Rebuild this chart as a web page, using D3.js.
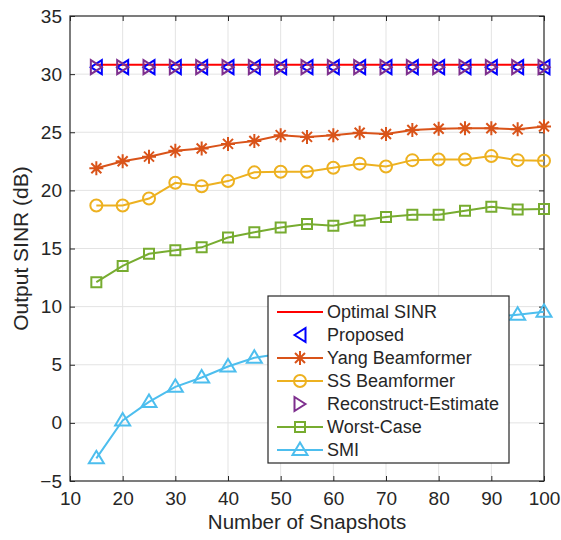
<!DOCTYPE html>
<html>
<head>
<meta charset="utf-8">
<script src="https://cdn.jsdelivr.net/npm/d3@7"></script>
<style>
  body { margin: 0; background: #fff; }
  text { font-family: "Liberation Sans", Arial, sans-serif; fill: #262626; }
</style>
</head>
<body>
<svg id="chart" width="561" height="540"></svg>
<script>
// snapshots on the x axis
const snapshots = [15, 20, 25, 30, 35, 40, 45, 50, 55, 60, 65, 70, 75, 80, 85, 90, 95, 100];

// output SINR (dB)
const optimalSinr   = [30.8, 30.8, 30.8, 30.8, 30.8, 30.8, 30.8, 30.8, 30.8, 30.8, 30.8, 30.8, 30.8, 30.8, 30.8, 30.8, 30.8, 30.8];
const proposed      = [30.6, 30.6, 30.6, 30.6, 30.6, 30.6, 30.6, 30.6, 30.6, 30.6, 30.6, 30.6, 30.6, 30.6, 30.6, 30.6, 30.6, 30.6];
const yang          = [21.9, 22.5, 22.9, 23.4, 23.6, 24.0, 24.25, 24.75, 24.6, 24.75, 24.95, 24.85, 25.2, 25.3, 25.35, 25.35, 25.25, 25.5];
const ssBeam        = [18.7, 18.7, 19.3, 20.65, 20.35, 20.8, 21.55, 21.6, 21.6, 21.95, 22.3, 22.05, 22.6, 22.65, 22.65, 22.95, 22.6, 22.55];
const reconstruct   = [30.6, 30.6, 30.6, 30.6, 30.6, 30.6, 30.6, 30.6, 30.6, 30.6, 30.6, 30.6, 30.6, 30.6, 30.6, 30.6, 30.6, 30.6];
const worstCase     = [12.1, 13.5, 14.55, 14.85, 15.1, 15.95, 16.4, 16.8, 17.1, 16.95, 17.4, 17.7, 17.9, 17.9, 18.25, 18.6, 18.35, 18.4];
const smi           = [-3.05, 0.2, 1.8, 3.1, 3.9, 4.85, 5.6, 5.95, 6.5, 7.0, 7.4, 7.8, 8.2, 8.5, 8.8, 9.1, 9.3, 9.55];

const xTicks = [10, 20, 30, 40, 50, 60, 70, 80, 90, 100];
const yTicks = [-5, 0, 5, 10, 15, 20, 25, 30, 35];

const legendNames = ['Optimal SINR', 'Proposed', 'Yang Beamformer', 'SS Beamformer',
                     'Reconstruct-Estimate', 'Worst-Case', 'SMI'];

const series = [
  {name: legendNames[0], values: optimalSinr, color: '#ff0000', line: true,  marker: null},
  {name: legendNames[1], values: proposed,    color: '#0000ff', line: false, marker: 'left'},
  {name: legendNames[2], values: yang,        color: '#d95319', line: true,  marker: 'star'},
  {name: legendNames[3], values: ssBeam,      color: '#edb120', line: true,  marker: 'circle'},
  {name: legendNames[4], values: reconstruct, color: '#7e2f8e', line: false, marker: 'right'},
  {name: legendNames[5], values: worstCase,   color: '#77ac30', line: true,  marker: 'square'},
  {name: legendNames[6], values: smi,         color: '#4dbeee', line: true,  marker: 'up'}
];

const margin = {top: 16, right: 17, bottom: 59, left: 70},
      width = 561, height = 540,
      innerW = width - margin.left - margin.right,
      innerH = height - margin.top - margin.bottom;

const svg = d3.select('#chart');
const g = svg.append('g').attr('transform', 'translate(' + margin.left + ',' + margin.top + ')');

const x = d3.scaleLinear().domain([10, 100]).range([0, innerW]);
const y = d3.scaleLinear().domain([-5, 35]).range([innerH, 0]);

g.append('rect').attr('width', innerW).attr('height', innerH).attr('fill', '#fff');

// grid
g.append('g').selectAll('line').data(xTicks.slice(1, -1)).enter().append('line')
  .attr('x1', d => x(d)).attr('x2', d => x(d)).attr('y1', 0).attr('y2', innerH)
  .attr('stroke', '#e3e3e3').attr('stroke-width', 1);
g.append('g').selectAll('line').data(yTicks.slice(1, -1)).enter().append('line')
  .attr('y1', d => y(d)).attr('y2', d => y(d)).attr('x1', 0).attr('x2', innerW)
  .attr('stroke', '#e3e3e3').attr('stroke-width', 1);

// axes (ticks inward, mirrored)
const axisColor = '#262626';
function styleAxis(sel) {
  sel.select('.domain').remove();
  sel.selectAll('.tick line').attr('stroke', axisColor);
  sel.selectAll('.tick text').attr('font-size', 19).attr('fill', axisColor);
}
g.append('g').attr('transform', 'translate(0,' + innerH + ')')
  .call(d3.axisBottom(x).tickValues(xTicks).tickSize(-5).tickPadding(11))
  .call(styleAxis);
g.append('g').call(d3.axisTop(x).tickValues(xTicks).tickSize(-5).tickFormat(''))
  .call(styleAxis);
g.append('g')
  .call(d3.axisLeft(y).tickValues(yTicks).tickSize(-5).tickPadding(8))
  .call(styleAxis);
g.append('g').attr('transform', 'translate(' + innerW + ',0)')
  .call(d3.axisRight(y).tickValues(yTicks).tickSize(-5).tickFormat(''))
  .call(styleAxis);
g.append('rect').attr('width', innerW).attr('height', innerH)
  .attr('fill', 'none').attr('stroke', axisColor).attr('stroke-width', 1.2);

// markers
function markerPath(type) {
  switch (type) {
    case 'left':   return 'M-5.5,0L5.5,-7L5.5,7Z';
    case 'right':  return 'M5.5,0L-5.5,-7L-5.5,7Z';
    case 'up':     return 'M0,-7.5L7.5,5L-7.5,5Z';
    case 'square': return 'M-5,-5H5V5H-5Z';
    case 'circle': return 'M6,0A6,6 0 1,1 -6,0A6,6 0 1,1 6,0Z';
    case 'star':   return 'M0,-7V7M-7,0H7M-5,-5L5,5M-5,5L5,-5';
  }
  return null;
}

const line = d3.line().x((d, i) => x(snapshots[i])).y(d => y(d));

const plot = g.append('g');
series.forEach(function(s) {
  if (s.line) {
    plot.append('path').datum(s.values)
      .attr('d', line).attr('fill', 'none')
      .attr('stroke', s.color).attr('stroke-width', 2);
  }
  if (s.marker) {
    plot.append('g').selectAll('path').data(s.values).enter().append('path')
      .attr('transform', (d, i) => 'translate(' + x(snapshots[i]) + ',' + y(d) + ')')
      .attr('d', markerPath(s.marker))
      .attr('fill', 'none').attr('stroke', s.color).attr('stroke-width', 2);
  }
});

// legend
const legend = svg.append('g').attr('transform', 'translate(268,296)');
legend.append('rect').attr('width', 241).attr('height', 167)
  .attr('fill', '#fff').attr('stroke', axisColor).attr('stroke-width', 1.2);
series.forEach(function(s, i) {
  const row = legend.append('g').attr('transform', 'translate(0,' + (16 + i * 23) + ')');
  if (s.line) {
    row.append('line').attr('x1', 9).attr('x2', 55)
      .attr('stroke', s.color).attr('stroke-width', 2);
  }
  if (s.marker) {
    row.append('path').attr('transform', 'translate(32,0)')
      .attr('d', markerPath(s.marker))
      .attr('fill', 'none').attr('stroke', s.color).attr('stroke-width', 2);
  }
  row.append('text').attr('x', 59).attr('dy', '0.35em')
    .attr('font-size', 18).text(s.name);
});

// axis titles
svg.append('text')
  .attr('x', margin.left + innerW / 2).attr('y', 529)
  .attr('text-anchor', 'middle').attr('font-size', 20.5)
  .text('Number of Snapshots');
svg.append('text')
  .attr('transform', 'translate(28,' + (margin.top + innerH / 2) + ') rotate(-90)')
  .attr('text-anchor', 'middle').attr('font-size', 21)
  .text('Output SINR (dB)');
</script>
</body>
</html>
